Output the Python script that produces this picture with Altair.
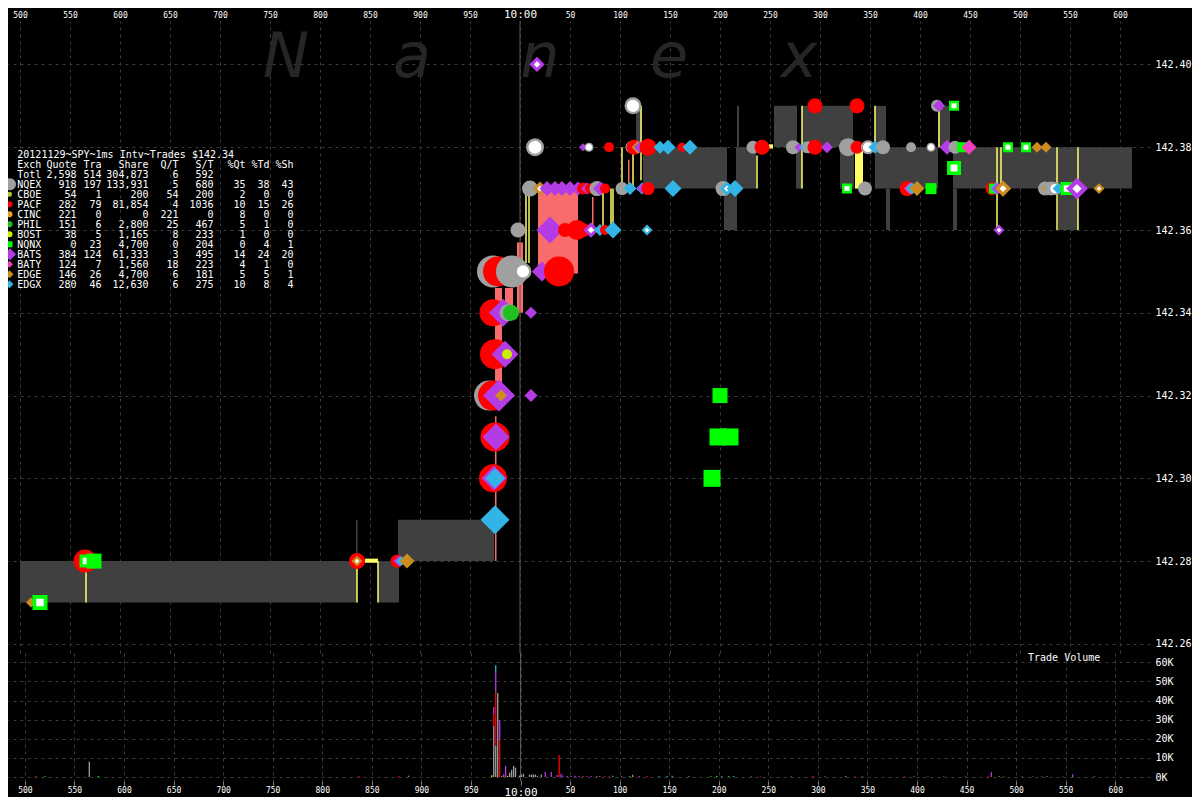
import altair as alt
import pandas as pd

# ---------------- exchanges ----------------
EXCH = ["NQEX", "CBOE", "PACF", "CINC", "PHIL", "BOST", "NQNX", "BATS", "BATY", "EDGE", "EDGX"]
EXCH_COLORS = ["#a0a0a0", "#a8c83c", "#ff0000", "#f0a020", "#20c020", "#c8f000",
               "#00ff00", "#b43ce6", "#f040c0", "#cd8c1e", "#32b4e6"]
EXCH_SHAPES = ["circle", "circle", "circle", "circle", "circle", "circle",
               "square", "diamond", "diamond", "diamond", "diamond"]
LEGEND_D = [12, 5, 6, 6, 6, 6, 6, 12, 7, 8, 8]

# ---------------- trades: (ms after 9:59:59, price, marker px, white centre) ----------------
NQEX = [(969, 142.32, 30, 0), (973, 142.35, 32, 0), (992, 142.35, 32, 0), (1003, 142.35, 17, 1),
        (988, 142.34, 17, 0), (998, 142.36, 15, 0), (1010, 142.37, 16, 0), (1015, 142.38, 18, 1),
        (1069, 142.38, 9, 1), (1077, 142.37, 15, 0), (1102, 142.37, 13, 0), (1112, 142.38, 13, 0),
        (1113, 142.39, 17, 1), (1203, 142.37, 15, 0), (1233, 142.38, 13, 0), (1273, 142.38, 14, 0),
        (1288, 142.38, 12, 0), (1328, 142.38, 18, 0), (1345, 142.37, 14, 0), (1348, 142.38, 14, 1),
        (1363, 142.38, 14, 0), (1391, 142.38, 10, 0), (1411, 142.38, 9, 1), (1417, 142.39, 12, 0),
        (1435, 142.38, 13, 0), (1525, 142.37, 14, 0), (1531, 142.37, 14, 0), (1535, 142.37, 13, 1)]
PACF = [(565, 142.28, 23, 0), (837, 142.28, 16, 0), (877, 142.28, 13, 0), (973, 142.30, 28, 0),
        (975, 142.31, 29, 0), (973, 142.32, 30, 0), (975, 142.33, 30, 0), (973, 142.34, 27, 0),
        (978, 142.35, 30, 0), (1039, 142.35, 30, 0), (1045, 142.36, 14, 0), (1057, 142.36, 20, 0),
        (1063, 142.36, 14, 0), (1085, 142.36, 10, 0), (1063, 142.37, 12, 0), (1070, 142.37, 10, 0),
        (1085, 142.37, 10, 0), (1128, 142.37, 13, 0), (1089, 142.38, 10, 0), (1114, 142.38, 15, 0),
        (1128, 142.38, 17, 0), (1162, 142.38, 9, 0), (1242, 142.38, 15, 0), (1295, 142.38, 15, 0),
        (1337, 142.38, 13, 0), (1295, 142.39, 15, 0), (1337, 142.39, 15, 0), (1387, 142.37, 15, 0),
        (1472, 142.37, 13, 0)]
BATS = [(879, 142.28, 11, 0), (974, 142.30, 25, 0), (976, 142.31, 27, 0), (979, 142.32, 32, 0),
        (1011, 142.32, 13, 0), (985, 142.33, 27, 0), (983, 142.34, 28, 0), (1011, 142.34, 12, 0),
        (1022, 142.35, 20, 0), (1030, 142.36, 27, 0), (1053, 142.36, 10, 0), (1071, 142.36, 14, 1),
        (1027, 142.37, 15, 0), (1035, 142.37, 15, 0), (1042, 142.37, 15, 0), (1050, 142.37, 15, 0),
        (1058, 142.37, 14, 0), (1067, 142.37, 12, 0), (1080, 142.37, 14, 0), (1063, 142.38, 8, 0),
        (1017, 142.40, 14, 1), (1120, 142.38, 12, 0), (1122, 142.37, 10, 0), (1279, 142.38, 9, 0),
        (1307, 142.38, 12, 0), (1419, 142.39, 12, 0), (1427, 142.38, 15, 0), (1478, 142.37, 12, 0),
        (1479, 142.36, 10, 1), (1557, 142.37, 20, 1)]
EDGX = [(881, 142.28, 10, 0), (975, 142.29, 29, 0), (975, 142.30, 20, 0), (1080, 142.36, 12, 0),
        (1093, 142.36, 17, 0), (1127, 142.36, 10, 1), (1110, 142.37, 13, 0), (1122, 142.37, 11, 1),
        (1153, 142.37, 17, 0), (1207, 142.37, 13, 1), (1215, 142.37, 17, 0), (1140, 142.38, 13, 0),
        (1148, 142.38, 15, 0), (1170, 142.38, 15, 0), (1285, 142.38, 11, 1), (1355, 142.38, 13, 0),
        (1392, 142.37, 12, 0), (1476, 142.37, 12, 0), (1538, 142.37, 11, 0)]
EDGE = [(511, 142.27, 10, 0), (837, 142.28, 10, 1), (887, 142.28, 15, 0), (981, 142.32, 12, 0),
        (1020, 142.37, 13, 1), (1118, 142.38, 13, 0), (1397, 142.37, 15, 0), (1483, 142.37, 15, 1),
        (1517, 142.38, 11, 0), (1526, 142.38, 11, 0), (1528, 142.37, 13, 0), (1579, 142.37, 10, 1)]
NQNX = [(520, 142.27, 15, 1), (566, 142.28, 13, 1), (574, 142.28, 15, 0), (1192, 142.30, 17, 0),
        (1198, 142.31, 17, 0), (1210, 142.31, 17, 0), (1200, 142.32, 15, 0), (1327, 142.37, 10, 1),
        (1411, 142.37, 11, 0), (1434, 142.39, 10, 1), (1434, 142.375, 14, 1), (1442, 142.38, 10, 0),
        (1474, 142.37, 10, 0), (1488, 142.38, 10, 1), (1506, 142.38, 10, 1), (1547, 142.37, 13, 1)]
PHIL = [(991, 142.34, 16, 0)]
BOST = [(987, 142.33, 10, 0)]
BATY = [(1390, 142.37, 12, 0), (1449, 142.38, 15, 0)]
TRADES = {"NQEX": NQEX, "PACF": PACF, "BATS": BATS, "EDGX": EDGX, "EDGE": EDGE,
          "NQNX": NQNX, "PHIL": PHIL, "BOST": BOST, "BATY": BATY}

# ---------------- NBBO shading: (t0, t1, bid, ask) ----------------
NBBO_GRAY = [(500, 837, 142.27, 142.28), (836, 837.5, 142.28, 142.29), (858, 879, 142.27, 142.28),
             (878, 974, 142.28, 142.29), (1116, 1122, 142.38, 142.39), (1123, 1207, 142.37, 142.38),
             (1204, 1217, 142.36, 142.37), (1216, 1236, 142.37, 142.38), (1217, 1219, 142.38, 142.39),
             (1254, 1277, 142.38, 142.39), (1276, 1282, 142.37, 142.38), (1282, 1333, 142.38, 142.39),
             (1320, 1334, 142.37, 142.38), (1355, 1366, 142.37, 142.39), (1366, 1418, 142.37, 142.38),
             (1366, 1370, 142.36, 142.37), (1418, 1430, 142.38, 142.39), (1433, 1437, 142.36, 142.37),
             (1433, 1612, 142.37, 142.38), (1538, 1558, 142.36, 142.37)]
NBBO_WIDE = [(975, 976.5, 142.28, 142.315), (975, 982, 142.323, 142.346), (985, 993, 142.34, 142.346),
             (997, 1003, 142.34, 142.357), (1018, 1058, 142.3495, 142.37), (1051, 1052.5, 142.36, 142.368),
             (1072, 1073.5, 142.36, 142.368), (1108, 1109.5, 142.37, 142.377)]
NBBO_LOCK = [(845, 858, 142.2796, 142.2806), (1335, 1343, 142.37, 142.38), (1249, 1253, 142.3797, 142.3807)]
LOCK_LINES = [(566, 142.27, 142.28), (837, 142.27, 142.28), (858, 142.27, 142.28), (1006, 142.352, 142.37),
              (1009, 142.352, 142.37), (1083, 142.36, 142.37), (1091, 142.36, 142.37), (1093, 142.36, 142.37),
              (1102, 142.371, 142.38), (1113, 142.37, 142.38), (1121, 142.372, 142.39), (1237, 142.37, 142.378),
              (1282, 142.37, 142.39), (1355, 142.38, 142.39), (1419, 142.38, 142.39), (1477, 142.36, 142.38),
              (1481, 142.37, 142.38), (1537, 142.36, 142.38), (1558, 142.36, 142.38)]

# ---------------- trade volume: (ms, exchange, shares) ----------------
VOLUME = [(511, "EDGE", 300), (520, "NQNX", 400), (565, "NQEX", 8000), (574, "NQNX", 500),
          (837, "PACF", 600), (877, "PACF", 500), (887, "EDGE", 700), (971, "BOST", 900),
          (973, "NQEX", 26700), (973, "PACF", 6000), (973, "BATS", 3900),
          (975, "NQEX", 16200), (975, "PACF", 27900), (975, "PHIL", 400), (975, "BATS", 10500), (975, "EDGX", 3500),
          (977, "NQEX", 44000), (979, "PACF", 19400), (979, "BATS", 10500), (981, "EDGE", 700),
          (983, "BATS", 1400), (985, "BATS", 5800), (987, "BOST", 600), (989, "NQEX", 2300),
          (991, "NQEX", 3700), (993, "NQEX", 5800), (995, "NQEX", 4900), (999, "NQEX", 800),
          (1001, "NQEX", 1000), (1003, "NQEX", 1700), (1009, "NQEX", 1200), (1011, "NQEX", 1300),
          (1013, "NQEX", 1300), (1015, "NQEX", 1300), (1017, "NQEX", 500), (1021, "NQEX", 1300),
          (1025, "BATS", 2600), (1031, "BATS", 2600), (1037, "BATS", 1000), (1039, "PACF", 11500),
          (1041, "BATS", 1700), (1043, "BATS", 600), (1047, "BATS", 500), (1051, "NQEX", 400),
          (1055, "BATS", 600), (1059, "BATS", 600), (1063, "PACF", 500), (1067, "BATS", 400),
          (1071, "BATS", 500), (1077, "NQEX", 400), (1080, "BATS", 500), (1085, "PACF", 400),
          (1089, "PACF", 400), (1093, "EDGX", 600), (1102, "NQEX", 400), (1110, "EDGX", 500),
          (1113, "EDGX", 700), (1113, "NQNX", 500), (1114, "PACF", 600), (1120, "BATS", 500),
          (1128, "PACF", 500), (1140, "EDGX", 400), (1148, "EDGX", 500), (1153, "EDGX", 600),
          (1170, "EDGX", 400), (1192, "NQNX", 400), (1198, "NQNX", 500), (1203, "NQEX", 400),
          (1210, "NQNX", 400), (1215, "EDGX", 500), (1233, "NQEX", 300), (1242, "PACF", 400),
          (1273, "NQEX", 300), (1295, "PACF", 500), (1307, "BATS", 400), (1328, "NQEX", 500),
          (1337, "PACF", 400), (1345, "NQEX", 300), (1387, "PACF", 400), (1397, "EDGE", 400),
          (1411, "NQNX", 300), (1427, "BATS", 400), (1449, "BATY", 300), (1472, "PACF", 500),
          (1475, "BATS", 2500), (1483, "EDGE", 400), (1488, "NQNX", 300), (1506, "NQNX", 300),
          (1517, "EDGE", 300), (1526, "EDGE", 300), (1531, "NQEX", 400), (1547, "NQNX", 300),
          (1557, "BATS", 1400), (1579, "EDGE", 300)]

# ---------------- summary table ----------------
TITLE = "20121129~SPY~1ms Intv~Trades $142.34"
HEADER = ["Exch", "Quote", "Tra", "Share", "Q/T", "S/T", "%Qt", "%Td", "%Sh"]
ROWS = [["Totl", "2,598", "514", "304,873", "6", "592", "", "", ""],
        ["NQEX", "918", "197", "133,931", "5", "680", "35", "38", "43"],
        ["CBOE", "54", "1", "200", "54", "200", "2", "0", "0"],
        ["PACF", "282", "79", "81,854", "4", "1036", "10", "15", "26"],
        ["CINC", "221", "0", "0", "221", "0", "8", "0", "0"],
        ["PHIL", "151", "6", "2,800", "25", "467", "5", "1", "0"],
        ["BOST", "38", "5", "1,165", "8", "233", "1", "0", "0"],
        ["NQNX", "0", "23", "4,700", "0", "204", "0", "4", "1"],
        ["BATS", "384", "124", "61,333", "3", "495", "14", "24", "20"],
        ["BATY", "124", "7", "1,560", "18", "223", "4", "1", "0"],
        ["EDGE", "146", "26", "4,700", "6", "181", "5", "5", "1"],
        ["EDGX", "280", "46", "12,630", "6", "275", "10", "8", "4"]]

WATERMARK = ["N", "a", "n", "e", "x"]
WATERMARK_T = [766, 892, 1020, 1149, 1279]
WATERMARK_P = 142.4015

TIME_TICKS = list(range(500, 1601, 50))
PRICE_TICKS = [142.26, 142.28, 142.30, 142.32, 142.34, 142.36, 142.38, 142.40]
VOL_TICKS = [0, 10000, 20000, 30000, 40000, 50000, 60000]

# ---------------- layout / style ----------------
W, H_TOP, H_BOT = 1142, 632, 128
GRID = "#3c3c3c"
MONO = "DejaVu Sans Mono"
XS = alt.Scale(domain=[488, 1630], nice=False, zero=False)
PS = alt.Scale(domain=[142.2578, 142.4105], nice=False, zero=False)
VS = alt.Scale(domain=[-2094, 64921], nice=False, zero=False)
EX_COLOR = alt.Scale(domain=EXCH, range=EXCH_COLORS)
EX_SHAPE = alt.Scale(domain=EXCH, range=EXCH_SHAPES)
EX_FILL = alt.Scale(domain=EXCH + ["HOLLOW"], range=EXCH_COLORS + ["#ffffff"])

LABEL_EXPR = ("datum.value == 1000 ? '10:00' : (datum.value < 1000 ? '' + datum.value "
              ": '' + (datum.value - 1000))")


def time_axis(orient, ticks):
    return alt.Axis(orient=orient, values=TIME_TICKS, labelExpr=LABEL_EXPR, grid=True,
                    gridColor=GRID, gridDash=[3, 4], domain=False, ticks=ticks,
                    tickColor="#808080", tickSize=4 if ticks else 0, labelColor="white",
                    labelFont=MONO,
                    labelFontSize={"condition": {"test": "datum.value == 1000", "value": 11}, "value": 8},
                    labelPadding=1 if ticks else 2, labelOverlap=False, labelFlush=False, title=None)


AX_TOP = time_axis("top", False)
AX_BOT = time_axis("bottom", True)
AY_P = alt.Axis(orient="right", values=PRICE_TICKS, format=".2f", grid=True, gridColor=GRID,
                gridDash=[3, 4], domain=False, ticks=False, labelColor="white", labelFont=MONO,
                labelFontSize=10, labelPadding=5, labelOverlap=False, labelFlush=False, title=None)
AY_V = alt.Axis(orient="right", values=VOL_TICKS, labelExpr="(datum.value / 1000) + 'K'", grid=True,
                gridColor=GRID, gridDash=[3, 4], domain=False, ticks=False, labelColor="white",
                labelFont=MONO, labelFontSize=10, labelPadding=5, labelOverlap=False,
                labelFlush=False, title=None)

# ---------------- dataframes ----------------
ring_ratio = {"circle": 0.14, "square": 0.25, "diamond": 0.22}
shape_of = dict(zip(EXCH, EXCH_SHAPES))
rows = []
for ex, lst in TRADES.items():
    for t, p, d, w in lst:
        ring = d * ring_ratio[shape_of[ex]] if w else 0.0
        rows.append({"ex": ex, "t": t, "p": p, "d": d,
                     "fk": "HOLLOW" if w else ex,
                     "sw": ring, "area": (d - ring) ** 2})
trades = pd.DataFrame(rows).sort_values(["t", "d"], ascending=[True, False]).reset_index(drop=True)
trades["z"] = range(len(trades))

gray = pd.DataFrame(NBBO_GRAY, columns=["t0", "t1", "lo", "hi"])
wide = pd.DataFrame(NBBO_WIDE, columns=["t0", "t1", "lo", "hi"])
lock = pd.DataFrame(NBBO_LOCK, columns=["t0", "t1", "lo", "hi"])
locks = pd.DataFrame(LOCK_LINES, columns=["t", "lo", "hi"])
vol = pd.DataFrame(VOLUME, columns=["t", "ex", "v"])
vol["ord"] = [EXCH.index(e) for e in vol["ex"]]
wm = pd.DataFrame({"ch": WATERMARK, "t": WATERMARK_T, "p": [WATERMARK_P] * len(WATERMARK)})
ten = pd.DataFrame({"t": [1000]})


def X(f):
    return alt.X(f"{f}:Q", scale=XS, axis=AX_TOP)


def Y(f):
    return alt.Y(f"{f}:Q", scale=PS, axis=AY_P)


# ---------------- top (price) panel ----------------
layers = []
layers.append(alt.Chart(wm).mark_text(font="DejaVu Sans", fontSize=62, fontStyle="italic",
                                      fontWeight=200, color="#262626", baseline="middle")
              .encode(x=X("t"), y=Y("p"), text="ch:N"))
for df_, col in ((gray, "#404040"), (wide, "#f86c6c"), (lock, "#ffff66")):
    layers.append(alt.Chart(df_).mark_rect(color=col).encode(
        x=X("t0"), x2="t1:Q", y=Y("lo"), y2="hi:Q"))
layers.append(alt.Chart(ten).mark_rule(color="#5a5a5a", strokeWidth=1).encode(x=X("t")))
layers.append(alt.Chart(locks).mark_rule(color="#ffff66", strokeWidth=1.5).encode(
    x=X("t"), y=Y("lo"), y2="hi:Q"))
layers.append(alt.Chart(trades).mark_point(filled=True, opacity=1).encode(
    x=X("t"), y=Y("p"),
    shape=alt.Shape("ex:N", scale=EX_SHAPE, legend=None),
    fill=alt.Fill("fk:N", scale=EX_FILL, legend=None),
    stroke=alt.Stroke("ex:N", scale=EX_COLOR, legend=None),
    strokeWidth=alt.StrokeWidth("sw:Q", scale=None),
    size=alt.Size("area:Q", scale=None), order=alt.Order("z:Q")))

# summary table (plot-area pixel layout)
TAB_LEFT = 9.3
TAB_RIGHTS = [68.5, 93.5, 140.5, 170.5, 205.5, 237.5, 261.5, 285.5]
TITLE_TOP = 129.0
HEAD_TOP = 139.0
LINE_H = 10.0
one = pd.DataFrame({"a": [0]})


def text_block(lines, x, y, align):
    return alt.Chart(pd.DataFrame({"s": ["\n".join(lines)]})).mark_text(
        align=align, baseline="top", lineBreak="\n", lineHeight=LINE_H, font=MONO, fontSize=10,
        color="white").encode(x=alt.value(x), y=alt.value(y), text="s:N")


layers.append(text_block([TITLE, HEADER[0]] + [r[0] for r in ROWS], TAB_LEFT, TITLE_TOP, "left"))
for j, xr in enumerate(TAB_RIGHTS, start=1):
    layers.append(text_block([HEADER[j]], xr, HEAD_TOP, "right"))
    body = [r[j] for r in ROWS]
    first = next(i for i, v in enumerate(body) if v != "")
    layers.append(text_block(body[first:], xr, HEAD_TOP + LINE_H * (first + 1), "right"))
for k, ex in enumerate(EXCH):
    cy = HEAD_TOP + 4.3 + LINE_H * (k + 2)
    layers.append(alt.Chart(one).mark_point(
        shape=EXCH_SHAPES[k], filled=True, opacity=1, strokeWidth=0, color=EXCH_COLORS[k],
        size=LEGEND_D[k] ** 2, clip=True).encode(x=alt.value(2 if LEGEND_D[k] > 10 else 1.5),
                                                 y=alt.value(cy)))

top = alt.layer(*layers).properties(width=W, height=H_TOP)

# ---------------- bottom (volume) panel ----------------
bars = alt.Chart(vol).mark_bar(size=1.3, opacity=1).encode(
    x=alt.X("t:Q", scale=XS, axis=AX_BOT),
    y=alt.Y("v:Q", scale=VS, axis=AY_V, stack="zero"),
    color=alt.Color("ex:N", scale=EX_COLOR, legend=None),
    order=alt.Order("ord:Q"))
ten_b = alt.Chart(ten).mark_rule(color="#5a5a5a", strokeWidth=1).encode(
    x=alt.X("t:Q", scale=XS, axis=AX_BOT))
label = alt.Chart(pd.DataFrame({"t": [1512], "v": [62300], "s": ["Trade Volume"]})).mark_text(
    align="left", baseline="middle", font=MONO, fontSize=10, color="white").encode(
    x=alt.X("t:Q", scale=XS, axis=AX_BOT), y=alt.Y("v:Q", scale=VS, axis=AY_V), text="s:N")
bottom = alt.layer(ten_b, bars, label).properties(width=W, height=H_BOT)

chart = alt.vconcat(top, bottom, spacing=0, bounds="flush", padding=0,
                    background="black").configure_view(strokeWidth=0)

chart.save("out.html", embed_options={"renderer": "svg", "actions": False})
